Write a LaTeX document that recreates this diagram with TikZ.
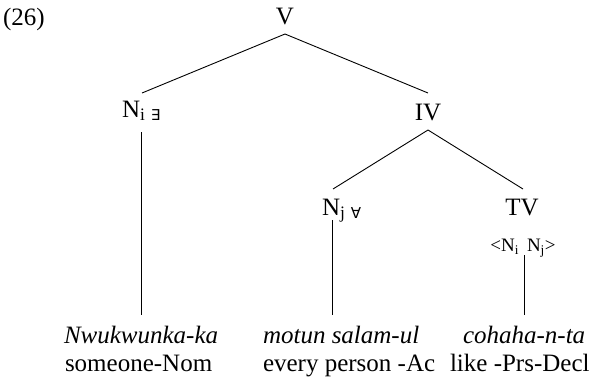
\documentclass[tikz,border=0pt]{standalone}
\usepackage{fontspec}
\setmainfont{Liberation Serif}
\newfontfamily\symf{DejaVu Sans}
\usetikzlibrary{calc}
\tikzset{
  lbl/.style={inner sep=0pt, outer sep=0pt, font=\fontsize{25bp}{29bp}\selectfont},
  sml/.style={inner sep=0pt, outer sep=0pt, font=\fontsize{19bp}{22bp}\selectfont},
  edge/.style={draw=black, line width=0.9bp}
}
\newcommand{\qsym}[1]{{\fontsize{15bp}{16bp}\selectfont\symf #1}}
\begin{document}
\begin{tikzpicture}[x=1bp,y=-1bp]
\useasboundingbox (0,0) rectangle (606,381);
\node[lbl,anchor=base west] (ex) at (3,25) {(26)};
\node[lbl,anchor=base] (V) at (285,24) {V};
\node[lbl,anchor=base west] (Ni) at (122,117) {N\textsubscript{i\hspace{6bp}\qsym{∃}}};
\node[lbl,anchor=base] (IV) at (428,120) {IV};
\node[lbl,anchor=base west] (Nj) at (322,215) {N\textsubscript{j\hspace{6bp}\qsym{∀}}};
\node[lbl,anchor=base] (TV) at (522,215) {TV};
\node[sml,anchor=base] (TVs) at (523,251) {<N\textsubscript{i}\hspace{8bp}N\textsubscript{j}>};
\node[lbl,anchor=base west] (w1) at (64,343) {\itshape Nwukwunka-ka};
\node[lbl,anchor=base west] (g1) at (65,371) {someone-Nom};
\node[lbl,anchor=base west] (w2) at (263,343) {\itshape motun salam-ul};
\node[lbl,anchor=base west] (g2) at (263,371) {every person -Ac};
\node[lbl,anchor=base west] (w3) at (463,343) {\itshape cohaha-n-ta};
\node[lbl,anchor=base west] (g3) at (450,371) {like -Prs-Decl};
\draw[edge] ($(V.base)+(0,10)$) -- ($(Ni.base west)+(20,-24)$);
\draw[edge] ($(V.base)+(0,10)$) -- ($(IV.base)+(0,-27)$);
\draw[edge] ($(IV.base)+(0,10)$) -- ($(Nj.base west)+(11,-26)$);
\draw[edge] ($(IV.base)+(0,10)$) -- ($(TV.base)+(1,-26)$);
\draw[edge] ($(Ni.base west)+(19,15)$) -- ($(w1.base west)+(77,-28)$);
\draw[edge] ($(Nj.base west)+(10,5)$) -- ($(w2.base west)+(69,-28)$);
\draw[edge] ($(TVs.base)+(1,4)$) -- ($(w3.base west)+(61,-28)$);
\end{tikzpicture}
\end{document}
